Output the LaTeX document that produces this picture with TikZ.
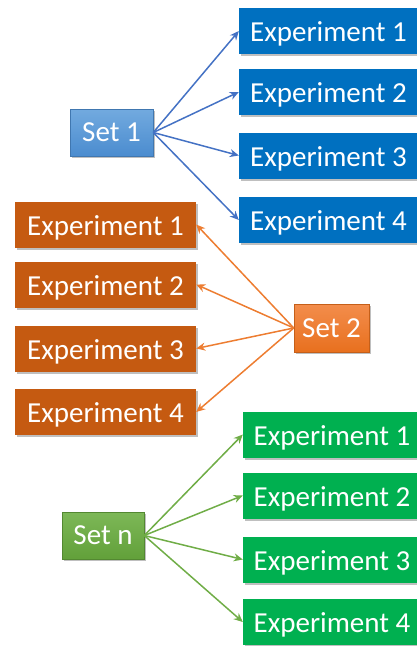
\documentclass[tikz,border=0pt]{standalone}
\usepackage{fontspec}
\setmainfont{Carlito}
\usetikzlibrary{arrows.meta,shadows}
\definecolor{bluebox}{HTML}{0070C0}
\definecolor{orangebox}{HTML}{C55A11}
\definecolor{greenbox}{HTML}{00B050}
\definecolor{bluearrow}{HTML}{4472C4}
\definecolor{orangearrow}{HTML}{ED7D31}
\definecolor{greenarrow}{HTML}{70AD47}
\definecolor{setonetop}{HTML}{72AADF}
\definecolor{setonebot}{HTML}{4B8CCF}
\definecolor{settwotop}{HTML}{F38D4C}
\definecolor{settwobot}{HTML}{E8701E}
\definecolor{setntop}{HTML}{7DB857}
\definecolor{setnbot}{HTML}{62A03A}
\tikzset{
  x=1pt, y=-1pt,
  shd/.style={drop shadow={shadow xshift=1.5pt, shadow yshift=-2pt, fill=black, opacity=0.25}},
  expbox/.style={rectangle, inner sep=0pt, minimum width=179pt, minimum height=46pt,
    text height=21pt, text depth=0pt,
    text=white, font=\fontsize{29}{30}\selectfont, shd},
  setbox/.style={rectangle, inner sep=0pt, minimum height=47pt,
    text=white, font=\fontsize{29}{30}\selectfont, shd, line width=0.5pt},
  conn/.style={line width=1.5pt, -{Stealth[length=9pt,width=8pt]}},
}
\begin{document}
\begin{tikzpicture}
\useasboundingbox (0,0) rectangle (417,646);
% Set 1 group
\node[expbox, fill=bluebox] (b1) at (328.5,31) {Experiment 1};
\node[expbox, fill=bluebox] (b2) at (328.5,92) {Experiment 2};
\node[expbox, fill=bluebox] (b3) at (328.5,155.5) {Experiment 3};
\node[expbox, fill=bluebox] (b4) at (328.5,220) {Experiment 4};
\node[setbox, minimum width=83pt, top color=setonetop, bottom color=setonebot, draw=setonebot!85!black] (s1) at (111.5,132.5) {Set 1};
% Set 2 group
\node[expbox, fill=orangebox, minimum width=181pt] (o1) at (105.5,224.5) {Experiment 1};
\node[expbox, fill=orangebox, minimum width=181pt] (o2) at (105.5,284.5) {Experiment 2};
\node[expbox, fill=orangebox, minimum width=181pt] (o3) at (105.5,348.5) {Experiment 3};
\node[expbox, fill=orangebox, minimum width=181pt] (o4) at (105.5,412) {Experiment 4};
\node[setbox, minimum width=75pt, minimum height=48pt, top color=settwotop, bottom color=settwobot, draw=settwobot!85!black] (s2) at (331.5,328) {Set 2};
% Set n group
\node[expbox, fill=greenbox, minimum width=178pt] (g1) at (332,434.5) {Experiment 1};
\node[expbox, fill=greenbox, minimum width=178pt] (g2) at (332,495.5) {Experiment 2};
\node[expbox, fill=greenbox, minimum width=178pt] (g3) at (332,559.5) {Experiment 3};
\node[expbox, fill=greenbox, minimum width=178pt] (g4) at (332,622) {Experiment 4};
\node[setbox, minimum width=82pt, top color=setntop, bottom color=setnbot, draw=setnbot!85!black] (sn) at (103,535.5) {Set n};
% connectors
\foreach \t in {b1,b2,b3,b4} \draw[conn, bluearrow] (s1.east) -- (\t.west);
\foreach \t in {o1,o2,o3,o4} \draw[conn, orangearrow] (s2.west) -- (\t.east);
\foreach \t in {g1,g2,g3,g4} \draw[conn, greenarrow] (sn.east) -- (\t.west);
\end{tikzpicture}
\end{document}
